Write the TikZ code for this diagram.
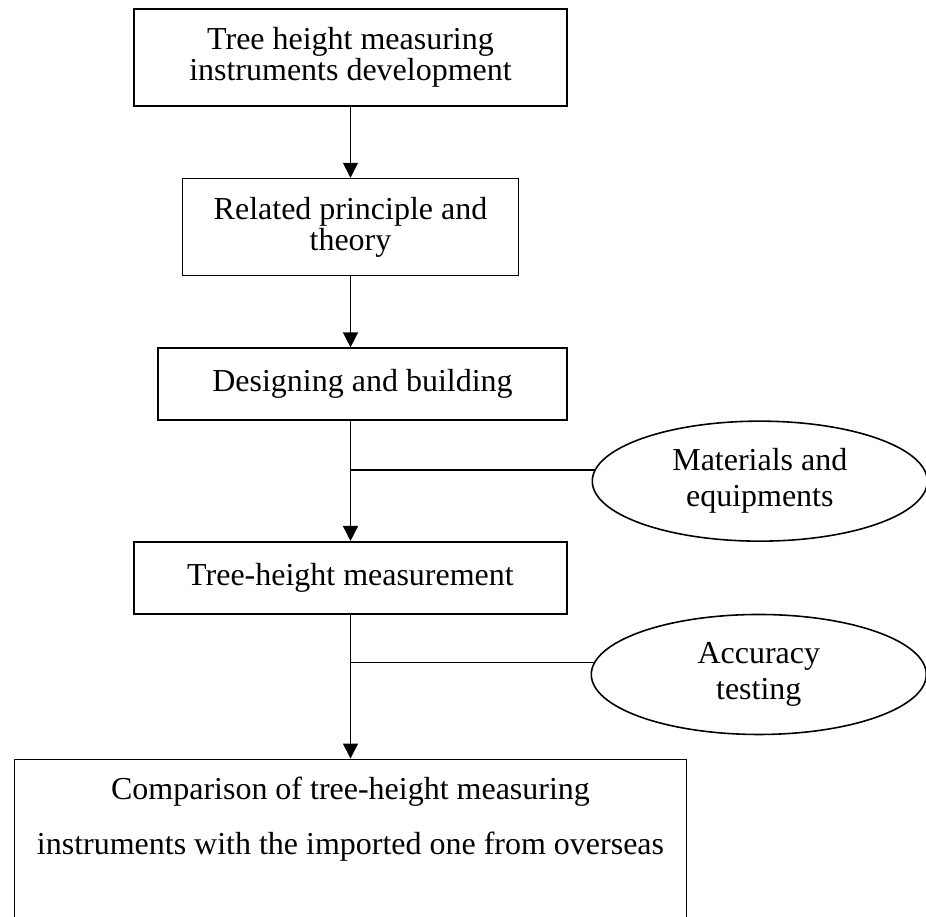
\documentclass[tikz,border=0pt]{standalone}
\usepackage{fontspec}
\setmainfont{Liberation Serif}
\usetikzlibrary{arrows.meta, positioning, calc, shapes.geometric}

\begin{document}
\begin{tikzpicture}[
  stage/.style={draw, line width=0.9pt, inner sep=0pt, align=center,
                font=\fontsize{18.2}{17.6}\selectfont},
  factor/.style={draw, ellipse, line width=0.9pt, inner sep=0pt,
                 minimum width=6.7cm, minimum height=2.4cm, align=center,
                 font=\fontsize{18.2}{20.5}\selectfont},
  flow/.style={-{Triangle[length=3mm, width=3mm]}, line width=0.9pt},
  feed/.style={line width=0.9pt}
]
\useasboundingbox (0,0) rectangle (18.52,-18.34);
\clip (0,0) rectangle (18.52,-18.34);

\node[stage, minimum width=8.66cm, minimum height=1.94cm] (dev) at (7.01,-1.15)
  {Tree height measuring\\instruments development};
\node[stage, minimum width=6.72cm, minimum height=1.94cm, below=1.42cm of dev] (theory)
  {Related principle and\\theory};
\node[stage, minimum width=8.18cm, minimum height=1.44cm, below=1.42cm of theory, xshift=0.24cm] (design)
  {Designing and building};
\node[stage, minimum width=8.66cm, minimum height=1.44cm, below=2.4cm of design, xshift=-0.24cm] (measure)
  {Tree-height measurement};
\node[stage, minimum width=13.44cm, text height=1.9cm, text depth=2.6cm,
      font=\fontsize{18.2}{31.3}\selectfont, below=2.88cm of measure] (compare)
  {Comparison of tree-height measuring\\instruments with the imported one from overseas};

\coordinate (j1) at ($(measure |- design.south)!0.41!(measure.north)$);
\coordinate (j2) at ($(measure.south)!0.333!(compare.north)$);
\node[factor, right=4.82cm of j1, yshift=-0.22cm] (material) {Materials and\\equipments};
\node[factor, right=4.8cm of j2, yshift=-0.24cm] (accuracy) {Accuracy\\testing};

\draw[flow] (dev) -- (theory);
\draw[flow] (theory) -- (theory |- design.north);
\draw[flow] (measure |- design.south) -- (measure);
\draw[flow] (measure) -- (compare);
\draw[feed, shorten >=-0.06cm] (j1) -- (j1 -| material.west);
\draw[feed, shorten >=-0.06cm] (j2) -- (j2 -| accuracy.west);
\end{tikzpicture}
\end{document}
